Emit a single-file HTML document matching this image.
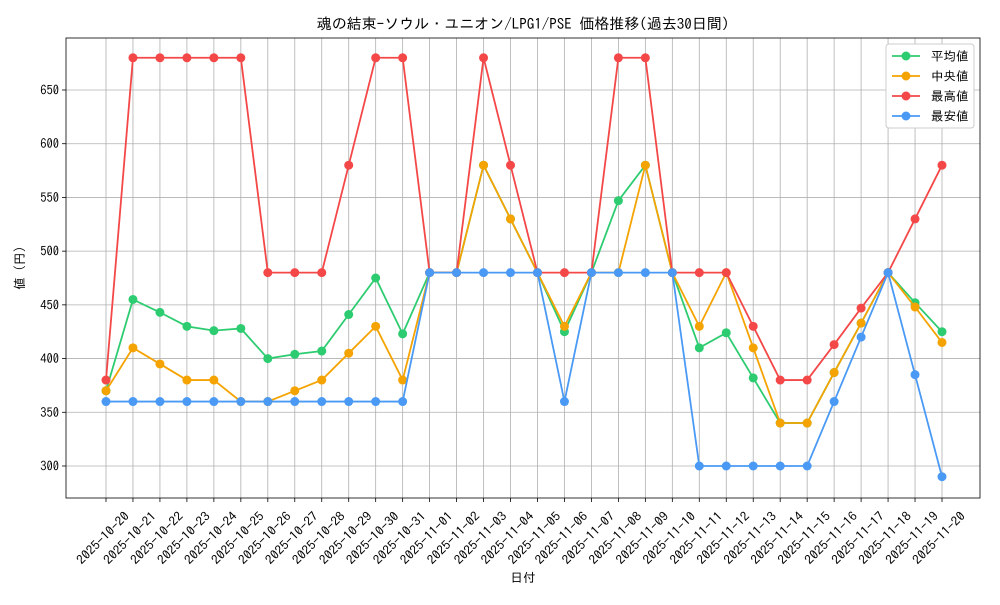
<!DOCTYPE html>
<html><head><meta charset="utf-8"><style>
body{margin:0;background:#fff;width:1000px;height:600px;overflow:hidden}
text{font-family:"IPAGothic","Liberation Sans",sans-serif;fill:#000}
</style></head><body>
<svg id="chart" width="1000" height="600"></svg>
<script>
const dates=["2025-10-20","2025-10-21","2025-10-22","2025-10-23","2025-10-24","2025-10-25","2025-10-26","2025-10-27","2025-10-28","2025-10-29","2025-10-30","2025-10-31","2025-11-01","2025-11-02","2025-11-03","2025-11-04","2025-11-05","2025-11-06","2025-11-07","2025-11-08","2025-11-09","2025-11-10","2025-11-11","2025-11-12","2025-11-13","2025-11-14","2025-11-15","2025-11-16","2025-11-17","2025-11-18","2025-11-19","2025-11-20"];
const avgVals=[370,455,443,430,426,428,400,404,407,441,475,423,480,480,580,530,480,425,480,547,580,480,410,424,382,340,340,387,433,480,452,425];
const medVals=[370,410,395,380,380,360,360,370,380,405,430,380,480,480,580,530,480,430,480,480,580,480,430,480,410,340,340,387,433,480,448,415];
const maxVals=[380,680,680,680,680,680,480,480,480,580,680,680,480,480,680,580,480,480,480,680,680,480,480,480,430,380,380,413,447,480,530,580];
const minVals=[360,360,360,360,360,360,360,360,360,360,360,360,480,480,480,480,480,360,480,480,480,480,300,300,300,300,300,360,420,480,385,290];
const yTicks=[300,350,400,450,500,550,600,650];
const seriesNames=["平均値","中央値","最高値","最安値"];
const NS="http://www.w3.org/2000/svg";
const svg=document.getElementById("chart");
const L=66,R=980,T=38,B=498;
const x=i=>106+i*(942-106)/(dates.length-1);
const y=v=>466-(v-300)*(466-90)/350;
function el(tag,attrs,parent){const e=document.createElementNS(NS,tag);for(const k in attrs)e.setAttribute(k,attrs[k]);(parent||svg).appendChild(e);return e;}
dates.forEach((d,i)=>{const g=el("line",{x1:x(i),x2:x(i),y1:T,y2:B,stroke:"#b0b0b0","stroke-width":0.8});


el("line",{x1:x(i),x2:x(i),y1:B,y2:B+4,stroke:"#000","stroke-width":0.8});
const ax=x(i)+24,ay=B+19;
const t=el("text",{x:ax,y:ay,"font-size":12.5,"text-anchor":"end",textLength:68,lengthAdjust:"spacingAndGlyphs",transform:`rotate(-45 ${ax} ${ay})`});t.textContent=d;

});
yTicks.forEach(v=>{const g=el("line",{x1:L,x2:R,y1:y(v),y2:y(v),stroke:"#b0b0b0","stroke-width":0.8});


el("line",{x1:L-4,x2:L,y1:y(v),y2:y(v),stroke:"#000","stroke-width":0.8});
const t=el("text",{x:L-7,y:y(v)+4.5,"font-size":12.5,"text-anchor":"end"});t.textContent=v;

});
const frame=el("rect",{x:L,y:T,width:R-L,height:B-T,fill:"none",stroke:"#000","stroke-width":0.8});


const series=[[avgVals,"#2ecc71","avg"],[medVals,"#f5a300","median"],[maxVals,"#f44848","max"],[minVals,"#4a9af5","min"]];
series.forEach(([vals,c,n])=>{const p=el("polyline",{points:vals.map((v,i)=>x(i)+","+y(v)).join(" "),fill:"none",stroke:c,"stroke-width":1.8});


vals.forEach((v,i)=>{const m=el("circle",{cx:x(i),cy:y(v),r:4.5,fill:c});

});});
const lg=el("g",{});


el("rect",{x:886,y:44,width:88,height:84,rx:3,fill:"#fff",stroke:"#ccc"},lg);
series.forEach(([v,c,n],i)=>{const yy=56+i*20;
el("line",{x1:892,x2:920,y1:yy,y2:yy,stroke:c,"stroke-width":1.8},lg);
el("circle",{cx:906,cy:yy,r:4.5,fill:c},lg);
const t=el("text",{x:931,y:yy+4.5,"font-size":12.5},lg);t.textContent=seriesNames[i];

});
const title=el("text",{x:523,y:29,"font-size":15,"text-anchor":"middle"});title.textContent="魂の結束−ソウル・ユニオン/LPG1/PSE 価格推移(過去30日間)";


const xt=el("text",{x:523,y:582,"font-size":12.5,"text-anchor":"middle"});xt.textContent="日付";


const yt=el("text",{x:24,y:268,"font-size":12.5,"text-anchor":"middle",transform:"rotate(-90 24 268)"});yt.textContent="値 (円)";


</script>
</body></html>
